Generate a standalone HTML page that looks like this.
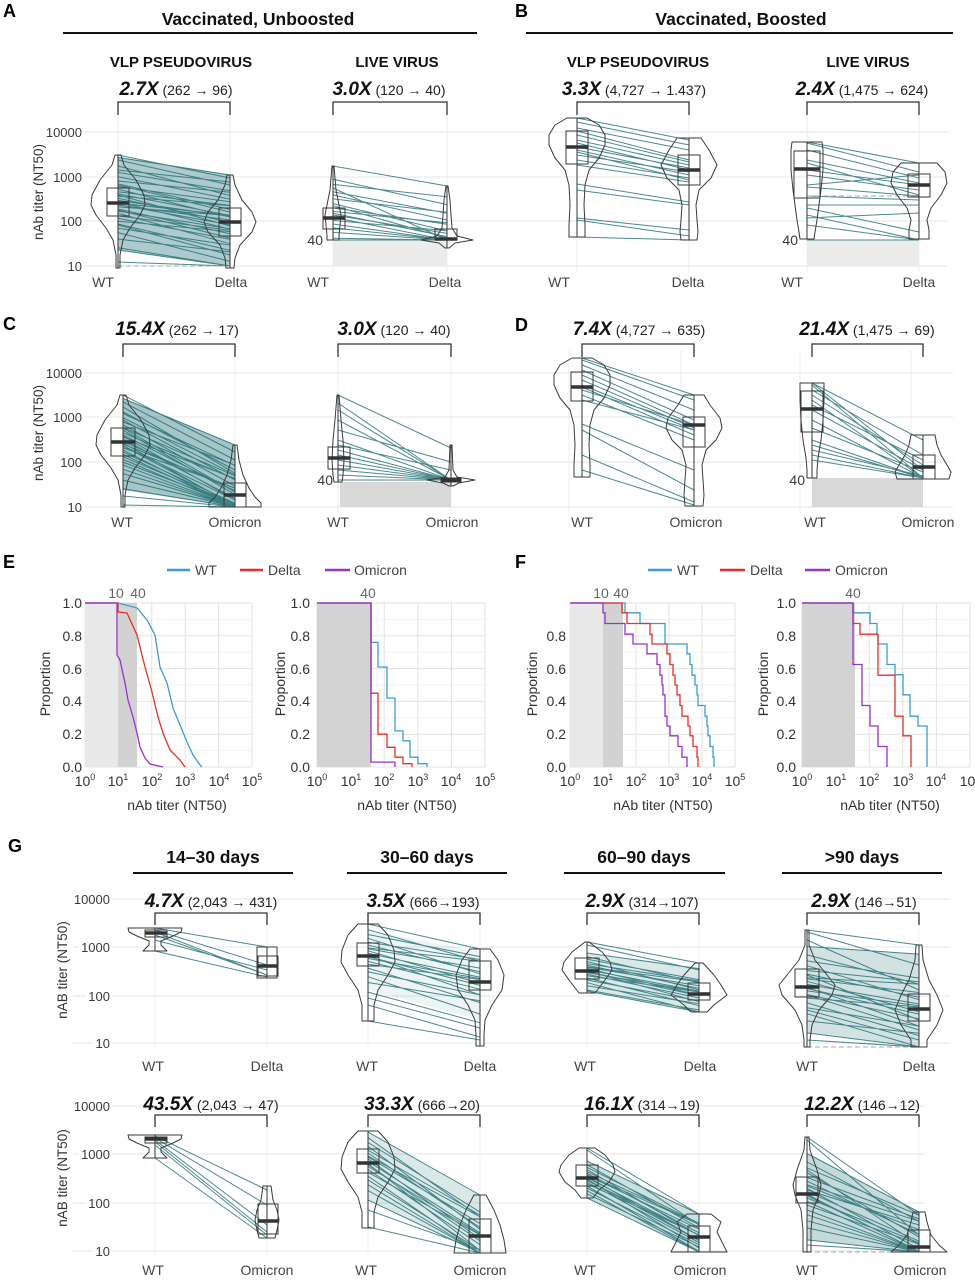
<!DOCTYPE html>
<html><head><meta charset="utf-8"><style>
html,body{margin:0;padding:0;background:#fff;}
svg{display:block;font-family:"Liberation Sans",Arial,sans-serif;}
.t{font-size:13px;fill:#3a3a3a}
.xl{font-size:14px;fill:#444}
.h1{font-size:17.5px;font-weight:bold;fill:#111}
.h2{font-size:15px;font-weight:bold;fill:#111}
.fb{font-size:19px;font-weight:bold;font-style:italic;fill:#111}
.fn{font-size:14px;fill:#222;font-weight:normal;font-style:normal}
.pl{font-size:18px;font-weight:bold;fill:#000}
.yt{font-size:13.5px;fill:#333}
.br{fill:none;stroke:#333;stroke-width:1.3}
.g4{font-size:14px;fill:#666}
.sup{font-size:9px}
.gh{fill:none;stroke:#e6e6e6;stroke-width:1}
.gv{fill:none;stroke:#ececec;stroke-width:1}
.gmi{fill:none;stroke:#f2f2f2;stroke-width:1}
.tl{fill:none;stroke:#1f6d72;stroke-width:1;stroke-opacity:0.8}
.vio{fill:none;stroke:#3a3a3a;stroke-width:1;stroke-linejoin:round}
.bx{fill:none;stroke:#3a3a3a;stroke-width:1}
.md{fill:none;stroke:#333;stroke-width:3.5}
.wk{fill:none;stroke:#333;stroke-width:1}
.dsh{fill:none;stroke:#aaa;stroke-width:1;stroke-dasharray:5,3}
.cw{fill:none;stroke:#3d9bd3;stroke-width:1.3}
.cd{fill:none;stroke:#e2312d;stroke-width:1.3}
.co{fill:none;stroke:#9932cc;stroke-width:1.3}
</style></head><body>
<svg width="975" height="1280" viewBox="0 0 975 1280" xmlns="http://www.w3.org/2000/svg">
<rect x="0" y="0" width="975" height="1280" fill="#fff"/>

<!-- GRIDS A-D -->
<path class="gh" d="M85 132H948M85 177H948M85 221H948M85 266H948M85 373H953M85 417H953M85 462H953M85 507H953"/>
<path class="gv" d="M118 112V272M230 112V272M333 112V272M447 112V272M577 112V272M689 112V272M807 112V272M919 112V272M123 350V512M235 350V512M338 350V512M451 350V512M569 350V512M681 350V512M800 350V512M911 350V512"/>
<!-- GRIDS G -->
<path class="gh" d="M112 899H950M112 947H950M112 996H950M112 1043H950M112 1106H925M112 1154H925M112 1203H925M112 1251H925M73 947H79M73 996H86M73 1043H93M73 1154H79M73 1203H86M73 1251H93"/>
<path class="gmi" d="M155 918V1050M267 918V1050M368 918V1050M480 918V1050M587 918V1050M699 918V1050M807 918V1050M919 918V1050M155 1120V1256M267 1120V1256M368 1120V1256M480 1120V1256M587 1120V1256M699 1120V1256M807 1120V1256M919 1120V1256"/>
<rect x="333" y="240" width="114" height="26" fill="#ececec"/>
<rect x="807" y="240" width="112" height="26" fill="#ececec"/>
<rect x="340" y="482" width="111" height="25" fill="#d9d9d9"/>
<rect x="812" y="478" width="111" height="29" fill="#d9d9d9"/>

<!-- GRIDS E/F -->
<path class="gmi" d="M85 750.6H252M85 717.8H252M85 685H252M85 652.2H252M85 619.4H252M317 750.6H485M317 717.8H485M317 685H485M317 652.2H485M317 619.4H485M570 750.6H735M570 717.8H735M570 685H735M570 652.2H735M570 619.4H735M802 750.6H970M802 717.8H970M802 685H970M802 652.2H970M802 619.4H970"/>
<path class="gh" style="stroke:#e2e2e2" d="M85 767H252M85 734.2H252M85 701.4H252M85 668.6H252M85 635.8H252M85 603H252M317 767H485M317 734.2H485M317 701.4H485M317 668.6H485M317 635.8H485M317 603H485M570 767H735M570 734.2H735M570 701.4H735M570 668.6H735M570 635.8H735M570 603H735M802 767H970M802 734.2H970M802 701.4H970M802 668.6H970M802 635.8H970M802 603H970
M85 603V767M118.4 603V767M151.8 603V767M185.2 603V767M218.6 603V767M252 603V767M317 603V767M350.6 603V767M384.2 603V767M417.8 603V767M451.4 603V767M485 603V767M570 603V767M603 603V767M636 603V767M669 603V767M702 603V767M735 603V767M802 603V767M835.6 603V767M869.2 603V767M902.8 603V767M936.4 603V767M970 603V767"/>
<rect x="85" y="603" width="33" height="164" fill="#e8e8e8"/>
<rect x="118" y="603" width="19" height="164" fill="#d2d2d2"/>
<rect x="317" y="603" width="54" height="164" fill="#d3d3d3"/>
<rect x="570" y="603" width="33" height="164" fill="#e8e8e8"/>
<rect x="603" y="603" width="20" height="164" fill="#d2d2d2"/>
<rect x="802" y="603" width="53" height="164" fill="#d3d3d3"/>

<!-- density bands -->
<polygon points="118,157 230,175 230,266 118,250" fill="#1f6d72" fill-opacity="0.36"/>
<polygon points="123,398 235,445 235,507 123,490" fill="#1f6d72" fill-opacity="0.4"/>
<polygon points="807,946 919,954 919,1047 807,1033" fill="#1f6d72" fill-opacity="0.2"/>
<polygon points="807,1153 919,1212 919,1252 807,1240" fill="#1f6d72" fill-opacity="0.26"/>
<polygon points="368,1132 480,1195 480,1253 368,1200" fill="#1f6d72" fill-opacity="0.16"/>
<polygon points="587,1161 699,1214 699,1252 587,1198" fill="#1f6d72" fill-opacity="0.22"/>
<polygon points="587,953 699,968 699,1012 587,991" fill="#1f6d72" fill-opacity="0.16"/>
<polygon points="368,930 480,952 480,1020 368,990" fill="#1f6d72" fill-opacity="0.08"/>

<!-- teal lines -->
<path class="tl" d="M118 247.7L230 266M118 239.1L230 251.9M118 232.6L230 261.4M118 228.3L230 245.1M118 224L230 250.4M118 221.2L230 231.6M118 218.4L230 239.2M118 215.8L230 230.2M118 213.3L230 243.7M118 211.1L230 228.7M118 209L230 233.8M118 206.8L230 215.6M118 204.7L230 224.7M118 203.1L230 215.1M118 201.9L230 229.1M118 200.4L230 216.4M118 198.2L230 222.2M118 196.1L230 205.7M118 193.9L230 215.5M118 191.8L230 205.4M118 189.2L230 217.2M118 186.6L230 201.8M118 183.8L230 209.4M118 181L230 192.2M118 176.7L230 199.1M118 172.4L230 190.8M118 166L230 195.6M118 157.4L230 175M118 155L230 178M118 160L230 185M118 170L230 182M118 250L230 266M118 262L230 266M118 185L230 212M118 195L230 226M118 210L230 238M118 225L230 255M118 205L230 220"/>
<path class="tl" d="M333 238.3L447 240M333 232.4L447 240M333 227.9L447 240M333 224L447 240M333 220.4L447 230.8M333 217.3L447 240M333 215L447 233.4M333 211.4L447 222.8M333 207.9L447 224.3M333 203.6L447 231M333 198.9L447 212.3M333 191.7L447 213.1M333 179.2L447 204.6M333 184.4L447 196.8M333 205.7L447 238M333 213.2L447 236.6M333 166L447 186M333 240L447 240M333 195L447 220M333 188L447 240"/>
<path class="tl" d="M577 118L689 140M577 122L689 145M577 128L689 150M577 131L689 160M577 135L689 162M577 140L689 165M577 143L689 170M577 147L689 168M577 150L689 175M577 152L689 180M577 155L689 172M577 160L689 178M577 165L689 182M577 184L689 202M577 190L689 205M577 218L689 230M577 220L689 236M577 237L689 240"/>
<path class="tl" d="M807 142L919 163M807 143L919 172M807 150L919 178M807 160L919 183M807 163L919 195M807 170L919 185M807 175L919 190M807 185L919 175M807 187L919 196M807 196L919 200M807 205L919 205M807 208L919 232M807 215L919 240M807 225L919 240M807 240L919 240M807 218L919 213"/>
<path class="tl" d="M123 488.7L235 507M123 480.1L235 507M123 473.6L235 507M123 469.3L235 507M123 465L235 507M123 462.2L235 504.4M123 459.4L235 507M123 456.8L235 504M123 454.3L235 507M123 452.1L235 503.3M123 450L235 507M123 447.8L235 488M123 445.7L235 499.9M123 444.1L235 488.3M123 442.9L235 506.1M123 441.4L235 490.6M123 439.2L235 498.4M123 437.1L235 478.3M123 434.9L235 491.1M123 432.8L235 479M123 430.2L235 494.4M123 427.6L235 475.8M123 424.8L235 486M123 422L235 465.2M123 417.7L235 474.9M123 413.4L235 465.6M123 407L235 473.2M123 398.4L235 445M123 395L235 452M123 402L235 460M123 412L235 470M123 420L235 480M123 428L235 492M123 436L235 500M123 446L235 505M123 496L235 507M123 505L235 507"/>
<path class="tl" d="M338 395L451 448M338 403L451 480M338 410L451 480M338 420L451 480M338 430L451 462M338 440L451 480M338 450L451 480M338 455L451 480M338 460L451 480M338 465L451 480M338 470L451 480M338 475L451 480M338 480L451 480M338 445L451 470"/>
<path class="tl" d="M582 358L694 395M582 360L694 400M582 365L694 410M582 370L694 420M582 375L694 425M582 380L694 428M582 385L694 430M582 387L694 435M582 390L694 425M582 395L694 440M582 400L694 430M582 424L694 470M582 430L694 490M582 455L694 502M582 470L694 505"/>
<path class="tl" d="M812 383L923 440M812 383L923 470M812 385L923 478M812 390L923 455M812 395L923 465M812 400L923 478M812 405L923 460M812 410L923 470M812 420L923 478M812 428L923 472M812 440L923 478M812 445L923 478M812 450L923 476M812 455L923 478M812 460L923 478"/>
<path class="tl" d="M155 928L267 947M155 930L267 965M155 932L267 975M155 935L267 975M155 940L267 970M155 951L267 977"/>
<path class="tl" d="M368 992.1L480 1022.8M368 982.5L480 1000.7M368 976.7L480 1014.1M368 971.9L480 994.9M368 968.1L480 1002.6M368 964.2L480 979.5M368 961.4L480 989.2M368 958.5L480 978.6M368 955.6L480 994.9M368 953.3L480 977.3M368 950.8L480 983.4M368 947.9L480 961.3M368 945L480 971.9M368 942.2L480 959.5M368 938.3L480 973.8M368 934.5L480 956.6M368 929.7L480 961.4M368 924L480 949M368 956.6L480 985.4M368 948.9L480 968.1M368 1021L480 1040M368 1005L480 1037M368 998L480 1028"/>
<path class="tl" d="M587 991.1L699 1012M587 985.8L699 1003.8M587 982.7L699 1012M587 980L699 1000.9M587 977.9L699 1005.7M587 975.8L699 992M587 974.2L699 998M587 972.6L699 991.7M587 971L699 1001.7M587 969.7L699 991.1M587 968.4L699 995.1M587 966.8L699 981.9M587 965.2L699 988.4M587 963.6L699 981M587 961.5L699 989.9M587 959.3L699 979.6M587 956.7L699 982.8M587 953L699 968.6M587 971.5L699 995.8M587 967.3L699 985.8M587 942L699 963M587 945L699 970M587 990L699 1010"/>
<path class="tl" d="M807 1032.9L919 1047M807 1020.9L919 1033.3M807 1013.7L919 1047M807 1007.7L919 1026.1M807 1002.9L919 1035.7M807 998.1L919 1006.9M807 994.5L919 1018.9M807 990.9L919 1005.7M807 987.3L919 1026.1M807 984.4L919 1004M807 981.3L919 1011.7M807 977.7L919 984.1M807 974.1L919 997.3M807 970.5L919 981.7M807 965.7L919 999.7M807 960.9L919 978.1M807 954.9L919 984.1M807 946.5L919 954.1M807 988.5L919 1014.1M807 978.9L919 992.5M807 930L919 945M807 932L919 965M807 1040L919 1047M807 940L919 990M807 1010L919 1040M807 995L919 1030M807 975L919 1020"/>
<path class="tl" d="M155 1136L267 1190M155 1138L267 1205M155 1140L267 1225M155 1142L267 1232M155 1145L267 1235M155 1158L267 1238"/>
<path class="tl" d="M368 1200.1L480 1253M368 1190.5L480 1253M368 1184.7L480 1253M368 1179.9L480 1250.4M368 1176.1L480 1253M368 1172.2L480 1235M368 1169.4L480 1244.7M368 1166.5L480 1234.1M368 1163.6L480 1250.4M368 1161.3L480 1232.8M368 1158.8L480 1238.9M368 1155.9L480 1216.8M368 1153L480 1227.4M368 1150.2L480 1215M368 1146.3L480 1229.3M368 1142.5L480 1212.1M368 1137.7L480 1216.9M368 1132L480 1195M368 1164.6L480 1240.9M368 1156.9L480 1223.6M368 1227L480 1253M368 1210L480 1250"/>
<path class="tl" d="M587 1198L699 1252M587 1193.8L699 1246.9M587 1190.7L699 1252M587 1188L699 1244.7M587 1185.9L699 1251.3M587 1183.8L699 1234.8M587 1182.2L699 1242.5M587 1180.6L699 1235.2M587 1179L699 1247.9M587 1177.7L699 1235.2M587 1176.4L699 1240.3M587 1174.8L699 1224.3M587 1173.2L699 1232.8M587 1171.6L699 1224M587 1169.5L699 1235.6M587 1167.3L699 1223.3M587 1164.7L699 1227.9M587 1161L699 1214M587 1179.5L699 1240.6M587 1175.3L699 1229.2M587 1148L699 1214M587 1150L699 1225"/>
<path class="tl" d="M807 1239.9L919 1252M807 1227.9L919 1252M807 1220.7L919 1252M807 1214.7L919 1252M807 1209.9L919 1252M807 1205.1L919 1244.1M807 1201.5L919 1252M807 1197.9L919 1242.9M807 1194.3L919 1252M807 1191.4L919 1241.2M807 1188.3L919 1248.9M807 1184.7L919 1221.3M807 1181.1L919 1234.5M807 1177.5L919 1218.9M807 1172.7L919 1236.9M807 1167.9L919 1215.3M807 1161.9L919 1221.3M807 1153.5L919 1212M807 1195.5L919 1251.3M807 1185.9L919 1229.7M807 1137L919 1215M807 1140L919 1235M807 1245L919 1252M807 1170L919 1245M807 1190L919 1225"/>
<path class="dsh" d="M118 266H230M807 196H919M807 1047H919M807 1252H919"/>

<!-- violins -->
<polygon class="vio" points="121,155 124,165 136,180 144,195 145,205 140,215 130,228 123,240 120,255 120,268 116,268 116,255 113,240 106,228 96,215 91,205 92,195 100,180 112,165 115,155"/>
<polygon class="vio" points="233,175 235,185 242,200 252,212 256,222 252,232 240,245 235,258 234,268 226,268 225,258 220,245 208,232 204,222 208,212 218,200 225,185 227,175"/>
<polygon class="vio" points="334,166 336,190 339,205 341,215 340,225 339,235 339,240 327,240 327,235 326,225 325,215 327,205 330,190 332,166"/>
<polygon class="vio" points="448,186 450,200 451,215 452,228 457,236 473,240 455,243 449,248 445,248 439,243 421,240 437,236 442,228 443,215 444,200 446,186"/>
<polygon class="vio" points="587,118 599,125 605,135 605,145 599,158 589,170 585,185 584,205 585,225 585,237 569,237 569,225 570,205 569,185 565,170 555,158 549,145 549,135 555,125 567,118"/>
<polygon class="vio" points="701,138 709,150 717,165 711,178 699,190 696,205 697,220 698,232 697,240 681,240 680,232 681,220 682,205 679,190 667,178 661,165 669,150 677,138"/>
<polygon class="vio" points="822,142 823,150 823,170 821,190 819,205 817,220 815,232 814,239 800,239 799,232 797,220 795,205 793,190 791,170 791,150 792,142"/>
<polygon class="vio" points="937,163 945,172 947,183 941,195 931,208 927,220 929,230 929,239 909,239 909,230 911,220 907,208 897,195 891,183 893,172 901,163"/>
<polygon class="vio" points="126,395 129,405 141,420 149,435 150,445 145,455 135,468 128,480 125,495 125,507 121,507 121,495 118,480 111,468 101,455 96,445 97,435 105,420 117,405 120,395"/>
<polygon class="vio" points="237,445 239,460 243,475 249,488 255,497 261,503 261,507 209,507 209,503 215,497 221,488 227,475 231,460 233,445"/>
<polygon class="vio" points="339,395 341,420 343,440 344,460 343,475 342,482 334,482 333,475 332,460 333,440 335,420 337,395"/>
<polygon class="vio" points="452,445 453,470 457,477 475,480 459,483 453,486 449,486 443,483 427,480 445,477 449,470 450,445"/>
<polygon class="vio" points="592,358 604,365 610,375 610,385 604,398 594,410 590,425 589,445 590,465 590,477 574,477 574,465 575,445 574,425 570,410 560,398 554,385 554,375 560,365 572,358"/>
<polygon class="vio" points="704,395 710,405 720,418 722,428 716,440 706,450 702,465 703,480 704,495 703,506 685,506 684,495 685,480 686,465 682,450 672,440 666,428 668,418 678,405 684,395"/>
<polygon class="vio" points="824,383 824,400 823,420 821,440 818,458 817,470 817,478 807,478 807,470 806,458 803,440 801,420 800,400 800,383"/>
<polygon class="vio" points="935,435 937,445 941,455 947,465 951,472 949,479 897,479 895,472 899,465 905,455 909,445 911,435"/>
<!-- G row1 violins -->
<polygon class="vio" points="182,928 181,932 173,936 161,941 161,945 165,949 167,951 143,951 145,949 149,945 149,941 137,936 129,932 128,928"/>
<polygon class="vio" points="257,947 277,947 277,978 257,978"/>
<polygon class="vio" points="378,924 388,935 394,950 395,962 388,975 378,990 374,1005 374,1021 362,1021 362,1005 358,990 348,975 341,962 342,950 348,935 358,924"/>
<polygon class="vio" points="490,949 498,960 504,975 502,990 492,1005 485,1020 484,1035 484,1046 476,1046 476,1035 475,1020 468,1005 458,990 456,975 462,960 470,949"/>
<polygon class="vio" points="589,942 602,952 610,962 612,970 605,980 595,993 579,993 569,980 562,970 564,962 572,952 585,942"/>
<polygon class="vio" points="703,963 714,975 721,985 727,995 714,1005 707,1012 691,1012 684,1005 671,995 677,985 684,975 695,963"/>
<polygon class="vio" points="809,930 809,945 815,960 827,975 835,985 832,995 819,1010 812,1025 810,1040 810,1047 804,1047 804,1040 802,1025 795,1010 782,995 779,985 787,975 799,960 805,945 805,930"/>
<polygon class="vio" points="922,945 923,960 929,980 937,995 943,1010 937,1025 927,1040 927,1047 911,1047 911,1040 901,1025 895,1010 901,995 909,980 915,960 916,945"/>
<!-- G row2 violins -->
<polygon class="vio" points="182,1135 181,1139 173,1143 161,1148 161,1152 165,1156 167,1158 143,1158 145,1156 149,1152 149,1148 137,1143 129,1139 128,1135"/>
<polygon class="vio" points="271,1186 273,1200 277,1210 279,1220 277,1230 275,1238 259,1238 257,1230 255,1220 257,1210 261,1200 263,1186"/>
<polygon class="vio" points="378,1131 388,1142 394,1157 395,1169 388,1182 378,1197 374,1212 374,1228 362,1228 362,1212 358,1197 348,1182 341,1169 342,1157 348,1142 358,1131"/>
<polygon class="vio" points="486,1195 494,1210 500,1225 504,1240 506,1253 454,1253 456,1240 460,1225 466,1210 474,1195"/>
<polygon class="vio" points="595,1148 605,1155 613,1165 615,1172 609,1182 599,1190 593,1198 581,1198 575,1190 565,1182 559,1172 561,1165 569,1155 579,1148"/>
<polygon class="vio" points="711,1214 721,1222 717,1232 721,1240 727,1252 671,1252 677,1240 681,1232 677,1222 687,1214"/>
<polygon class="vio" points="809,1137 810,1150 817,1170 821,1185 819,1195 813,1210 811,1230 811,1252 803,1252 803,1230 801,1210 795,1195 793,1185 797,1170 804,1150 805,1137"/>
<polygon class="vio" points="925,1212 927,1222 931,1235 939,1245 947,1252 891,1252 899,1245 907,1235 911,1222 913,1212"/>

<!-- whiskers -->
<path class="wk" d="M118 155V268M230 175V268M333 166V240M447 186V248M577 118V237M689 138V240M807 142V239M919 163V239M123 395V507M235 445V507M338 395V482M451 445V486M582 358V477M694 395V506M812 383V478M923 435V479M155 928V951M267 947V978M368 924V1021M480 949V1046M587 942V993M699 963V1012M807 930V1047M919 945V1047M155 1135V1158M267 1186V1238M368 1131V1228M480 1195V1253M587 1148V1198M699 1214V1252M807 1137V1252M919 1212V1252"/>

<!-- boxes -->
<g class="bx">
<rect x="107" y="188" width="22" height="28"/><rect x="219" y="208" width="22" height="28"/>
<rect x="323" y="208" width="22" height="21"/><rect x="435" y="229" width="22" height="11"/>
<rect x="566" y="131" width="22" height="33"/><rect x="678" y="155" width="22" height="30"/>
<rect x="794" y="151" width="26" height="47"/><rect x="908" y="174" width="22" height="23"/>
<rect x="111" y="428" width="24" height="28"/><rect x="224" y="483" width="22" height="24"/>
<rect x="328" y="447" width="22" height="22"/><rect x="441" y="478" width="20" height="4"/>
<rect x="571" y="372" width="22" height="29"/><rect x="683" y="417" width="22" height="30"/>
<rect x="801" y="391" width="22" height="41"/><rect x="913" y="455" width="22" height="24"/>
<rect x="145" y="930" width="22" height="7"/><rect x="258" y="956" width="20" height="20"/>
<rect x="357" y="943" width="22" height="23"/><rect x="469" y="961" width="22" height="29"/>
<rect x="575" y="958" width="24" height="21"/><rect x="688" y="983" width="22" height="17"/>
<rect x="795" y="969" width="24" height="28"/><rect x="908" y="994" width="22" height="27"/>
<rect x="145" y="1137" width="22" height="6"/><rect x="258" y="1204" width="20" height="30"/>
<rect x="357" y="1149" width="22" height="24"/><rect x="469" y="1219" width="22" height="34"/>
<rect x="576" y="1165" width="22" height="21"/><rect x="688" y="1226" width="22" height="26"/>
<rect x="796" y="1177" width="22" height="26"/><rect x="908" y="1230" width="22" height="22"/>
</g>
<path class="md" d="M107 203H129M219 222H241M323 218H345M435 239H457M566 147H588M678 170H700M794 169H820M908 185H930M111 442H135M224 495H246M328 458H350M441 480H461M571 387H593M683 425H705M801 409H823M913 467H935M145 933H167M258 966H278M357 956H379M469 982H491M575 971H599M688 994H710M795 987H819M908 1009H930M145 1139H167M258 1221H278M357 1163H379M469 1236H491M576 1178H598M688 1237H710M796 1194H818M908 1247H930"/>

<!-- ECDF curves -->
<path class="cw" d="M85,603 H118 L137,608 L147,620 L155,635 L160,667 L167,683 L173,708 L180,725 L187,742 L193,755 L200,765 L202,767"/>
<path class="cd" d="M85,603 H118 V612 L127,613 L137,635 L145,667 L152,692 L158,717 L163,733 L170,750 L180,760 L185,767"/>
<path class="co" d="M85,603 H117 V655 L120,660 L125,683 L128,700 L133,717 L137,733 L140,747 L145,758 L150,764 L163,767"/>
<path class="cw" d="M317,603 H371 V642.4 H378 V667 H387 V698.1 H395 V730.9 H403 V740.8 H410 V757.2 H418 V763.7 H427 V767"/>
<path class="cd" d="M317,603 H371 V693.2 H378 V734.2 H387 V747.3 H395 V757.2 H403 V763.7 H412 V767"/>
<path class="co" d="M317,603 H371 V762.1 H395 V767"/>
<path class="cw" d="M570,603 H625 V612.8 H640 V623.5 H665 V644 H687 V653.8 H690 V664.5 H692 V675.2 H695 V685 H697 V694.8 H698 V705.5 H705 V716.2 H707 V726 H708 V735.8 H710 V746.5 H713 V757.2 H714 V767"/>
<path class="cd" d="M570,603 H622 V612.8 H627 V623.5 H650 V634.2 H652 V644 H667 V653.8 H670 V664.5 H673 V675.2 H675 V685 H677 V694.8 H680 V705.5 H682 V716.2 H688 V726 H690 V735.8 H693 V746.5 H697 V757.2 H698 V767"/>
<path class="co" d="M570,603 H603 V612.8 H605 V623.5 H625 V634.2 H633 V644 H647 V653.8 H657 V664.5 H660 V675.2 H662 V685 H663 V694.8 H665 V716.2 H667 V726 H670 V735.8 H678 V746.5 H682 V757.2 H687 V767"/>
<path class="cw" d="M802,603 H853 V612.8 H870 V623.5 H877 V634.2 H878 V644 H887 V664.5 H895 V674.7 H903 V694.8 H910 V716.2 H918 V726 H927 V767"/>
<path class="cd" d="M802,603 H853 V623.5 H860 V634.2 H878 V675.2 H895 V716.2 H903 V735.8 H911 V767"/>
<path class="co" d="M802,603 H853 V664.5 H862 V705.5 H870 V726 H878 V746.5 H887 V767"/>

<!-- Panel letters -->
<text class="pl" x="3" y="17">A</text>
<text class="pl" x="515" y="17">B</text>
<text class="pl" x="3" y="330">C</text>
<text class="pl" x="515" y="331">D</text>
<text class="pl" x="3" y="568">E</text>
<text class="pl" x="515" y="568">F</text>
<text class="pl" x="8" y="852">G</text>

<!-- Headers A/B -->
<text class="h1" x="258" y="25" text-anchor="middle">Vaccinated, Unboosted</text>
<line x1="63" y1="33" x2="477" y2="33" stroke="#111" stroke-width="2"/>
<text class="h1" x="741" y="25" text-anchor="middle">Vaccinated, Boosted</text>
<line x1="526" y1="33" x2="953" y2="33" stroke="#111" stroke-width="2"/>
<text class="h2" x="181" y="67" text-anchor="middle">VLP PSEUDOVIRUS</text>
<text class="h2" x="397" y="67" text-anchor="middle">LIVE VIRUS</text>
<text class="h2" x="638" y="67" text-anchor="middle">VLP PSEUDOVIRUS</text>
<text class="h2" x="868" y="67" text-anchor="middle">LIVE VIRUS</text>

<text x="176" y="95" text-anchor="middle"><tspan class="fb">2.7X</tspan><tspan class="fn"> (262 → 96)</tspan></text>
<text x="389" y="95" text-anchor="middle"><tspan class="fb">3.0X</tspan><tspan class="fn"> (120 → 40)</tspan></text>
<text x="634" y="95" text-anchor="middle"><tspan class="fb">3.3X</tspan><tspan class="fn"> (4,727 → 1.437)</tspan></text>
<text x="862" y="95" text-anchor="middle"><tspan class="fb">2.4X</tspan><tspan class="fn"> (1,475 → 624)</tspan></text>
<path class="br" d="M118,115 V102 H230 V115"/>
<path class="br" d="M333,115 V102 H447 V115"/>
<path class="br" d="M577,115 V102 H689 V115"/>
<path class="br" d="M807,115 V102 H919 V115"/>

<text class="t" x="82" y="137" text-anchor="end">10000</text>
<text class="t" x="82" y="182" text-anchor="end">1000</text>
<text class="t" x="82" y="226" text-anchor="end">100</text>
<text class="t" x="82" y="271" text-anchor="end">10</text>
<text class="t" x="323" y="245" text-anchor="end" style="font-size:14px">40</text>
<text class="t" x="798" y="245" text-anchor="end" style="font-size:14px">40</text>
<text class="yt" transform="translate(43,192) rotate(-90)" text-anchor="middle">nAb titer (NT50)</text>
<text class="xl" x="103" y="287" text-anchor="middle">WT</text>
<text class="xl" x="231" y="287" text-anchor="middle">Delta</text>
<text class="xl" x="318" y="287" text-anchor="middle">WT</text>
<text class="xl" x="445" y="287" text-anchor="middle">Delta</text>
<text class="xl" x="559" y="287" text-anchor="middle">WT</text>
<text class="xl" x="688" y="287" text-anchor="middle">Delta</text>
<text class="xl" x="792" y="287" text-anchor="middle">WT</text>
<text class="xl" x="919" y="287" text-anchor="middle">Delta</text>

<!-- C/D -->
<text x="177" y="335" text-anchor="middle"><tspan class="fb">15.4X</tspan><tspan class="fn"> (262 → 17)</tspan></text>
<text x="394" y="335" text-anchor="middle"><tspan class="fb">3.0X</tspan><tspan class="fn"> (120 → 40)</tspan></text>
<text x="639" y="335" text-anchor="middle"><tspan class="fb">7.4X</tspan><tspan class="fn"> (4,727 → 635)</tspan></text>
<text x="867" y="335" text-anchor="middle"><tspan class="fb">21.4X</tspan><tspan class="fn"> (1,475 → 69)</tspan></text>
<path class="br" d="M123,357 V344 H235 V357"/>
<path class="br" d="M338,357 V344 H451 V357"/>
<path class="br" d="M582,357 V344 H694 V357"/>
<path class="br" d="M812,357 V344 H923 V357"/>
<text class="t" x="82" y="378" text-anchor="end">10000</text>
<text class="t" x="82" y="422" text-anchor="end">1000</text>
<text class="t" x="82" y="467" text-anchor="end">100</text>
<text class="t" x="82" y="512" text-anchor="end">10</text>
<text class="t" x="333" y="485" text-anchor="end" style="font-size:14px">40</text>
<text class="t" x="805" y="485" text-anchor="end" style="font-size:14px">40</text>
<text class="yt" transform="translate(43,433) rotate(-90)" text-anchor="middle">nAb titer (NT50)</text>
<text class="xl" x="122" y="527" text-anchor="middle">WT</text>
<text class="xl" x="235" y="527" text-anchor="middle">Omicron</text>
<text class="xl" x="338" y="527" text-anchor="middle">WT</text>
<text class="xl" x="452" y="527" text-anchor="middle">Omicron</text>
<text class="xl" x="582" y="527" text-anchor="middle">WT</text>
<text class="xl" x="696" y="527" text-anchor="middle">Omicron</text>
<text class="xl" x="815" y="527" text-anchor="middle">WT</text>
<text class="xl" x="928" y="527" text-anchor="middle">Omicron</text>

<!-- E/F legends -->
<line x1="167" y1="570" x2="190" y2="570" stroke="#3d9bd3" stroke-width="2.5"/>
<text class="xl" x="195" y="575">WT</text>
<line x1="240" y1="570" x2="263" y2="570" stroke="#e2312d" stroke-width="2.5"/>
<text class="xl" x="268" y="575">Delta</text>
<line x1="325" y1="570" x2="350" y2="570" stroke="#9932cc" stroke-width="2.5"/>
<text class="xl" x="354" y="575">Omicron</text>
<line x1="648" y1="570" x2="672" y2="570" stroke="#3d9bd3" stroke-width="2.5"/>
<text class="xl" x="677" y="575">WT</text>
<line x1="720" y1="570" x2="745" y2="570" stroke="#e2312d" stroke-width="2.5"/>
<text class="xl" x="750" y="575">Delta</text>
<line x1="805" y1="570" x2="830" y2="570" stroke="#9932cc" stroke-width="2.5"/>
<text class="xl" x="835" y="575">Omicron</text>

<text class="g4" x="116" y="598" text-anchor="middle">10</text>
<text class="g4" x="138" y="598" text-anchor="middle">40</text>
<text class="g4" x="368" y="598" text-anchor="middle">40</text>
<text class="g4" x="601" y="598" text-anchor="middle">10</text>
<text class="g4" x="621" y="598" text-anchor="middle">40</text>
<text class="g4" x="853" y="598" text-anchor="middle">40</text>

<g class="xl" style="fill:#333" text-anchor="end">
<text x="82" y="608">1.0</text><text x="82" y="641">0.8</text><text x="82" y="674">0.6</text><text x="82" y="706">0.4</text><text x="82" y="739">0.2</text><text x="82" y="772">0.0</text>
<text x="310" y="608">1.0</text><text x="310" y="641">0.8</text><text x="310" y="674">0.6</text><text x="310" y="706">0.4</text><text x="310" y="739">0.2</text><text x="310" y="772">0.0</text>
<text x="566" y="641">0.8</text><text x="566" y="674">0.6</text><text x="566" y="706">0.4</text><text x="566" y="739">0.2</text><text x="566" y="772">0.0</text>
<text x="796" y="608">1.0</text><text x="796" y="641">0.8</text><text x="796" y="674">0.6</text><text x="796" y="706">0.4</text><text x="796" y="739">0.2</text><text x="796" y="772">0.0</text>
</g>
<g class="xl" style="fill:#333" text-anchor="middle">
<text x="85" y="786">10<tspan class="sup" dy="-6">0</tspan></text>
<text x="118" y="786">10<tspan class="sup" dy="-6">1</tspan></text>
<text x="152" y="786">10<tspan class="sup" dy="-6">2</tspan></text>
<text x="185" y="786">10<tspan class="sup" dy="-6">3</tspan></text>
<text x="219" y="786">10<tspan class="sup" dy="-6">4</tspan></text>
<text x="252" y="786">10<tspan class="sup" dy="-6">5</tspan></text>
<text x="317" y="786">10<tspan class="sup" dy="-6">0</tspan></text>
<text x="351" y="786">10<tspan class="sup" dy="-6">1</tspan></text>
<text x="384" y="786">10<tspan class="sup" dy="-6">2</tspan></text>
<text x="418" y="786">10<tspan class="sup" dy="-6">3</tspan></text>
<text x="451" y="786">10<tspan class="sup" dy="-6">4</tspan></text>
<text x="485" y="786">10<tspan class="sup" dy="-6">5</tspan></text>
<text x="570" y="786">10<tspan class="sup" dy="-6">0</tspan></text>
<text x="603" y="786">10<tspan class="sup" dy="-6">1</tspan></text>
<text x="636" y="786">10<tspan class="sup" dy="-6">2</tspan></text>
<text x="669" y="786">10<tspan class="sup" dy="-6">3</tspan></text>
<text x="702" y="786">10<tspan class="sup" dy="-6">4</tspan></text>
<text x="735" y="786">10<tspan class="sup" dy="-6">5</tspan></text>
<text x="802" y="786">10<tspan class="sup" dy="-6">0</tspan></text>
<text x="836" y="786">10<tspan class="sup" dy="-6">1</tspan></text>
<text x="869" y="786">10<tspan class="sup" dy="-6">2</tspan></text>
<text x="903" y="786">10<tspan class="sup" dy="-6">3</tspan></text>
<text x="936" y="786">10<tspan class="sup" dy="-6">4</tspan></text>
<text x="970" y="786">10<tspan class="sup" dy="-6">5</tspan></text>
<text x="177" y="810">nAb titer (NT50)</text>
<text x="407" y="810">nAb titer (NT50)</text>
<text x="663" y="810">nAb titer (NT50)</text>
<text x="890" y="810">nAb titer (NT50)</text>
</g>
<text class="yt" style="font-size:14px" transform="translate(50,684) rotate(-90)" text-anchor="middle">Proportion</text>
<text class="yt" style="font-size:14px" transform="translate(285,684) rotate(-90)" text-anchor="middle">Proportion</text>
<text class="yt" style="font-size:14px" transform="translate(537,684) rotate(-90)" text-anchor="middle">Proportion</text>
<text class="yt" style="font-size:14px" transform="translate(768,684) rotate(-90)" text-anchor="middle">Proportion</text>

<!-- G headers -->
<text class="h1" x="213" y="863" text-anchor="middle">14–30 days</text>
<text class="h1" x="427" y="863" text-anchor="middle">30–60 days</text>
<text class="h1" x="644" y="863" text-anchor="middle">60–90 days</text>
<text class="h1" x="862" y="863" text-anchor="middle">&gt;90 days</text>
<line x1="133" y1="873" x2="293" y2="873" stroke="#111" stroke-width="2"/>
<line x1="347" y1="873" x2="507" y2="873" stroke="#111" stroke-width="2"/>
<line x1="564" y1="873" x2="725" y2="873" stroke="#111" stroke-width="2"/>
<line x1="782" y1="873" x2="942" y2="873" stroke="#111" stroke-width="2"/>

<text x="211" y="907" text-anchor="middle"><tspan class="fb">4.7X</tspan><tspan class="fn"> (2,043 → 431)</tspan></text>
<text x="423" y="907" text-anchor="middle"><tspan class="fb">3.5X</tspan><tspan class="fn"> (666→193)</tspan></text>
<text x="642" y="907" text-anchor="middle"><tspan class="fb">2.9X</tspan><tspan class="fn"> (314→107)</tspan></text>
<text x="864" y="907" text-anchor="middle"><tspan class="fb">2.9X</tspan><tspan class="fn"> (146→51)</tspan></text>
<path class="br" d="M155,925 V913 H267 V925"/>
<path class="br" d="M368,925 V913 H480 V925"/>
<path class="br" d="M587,925 V913 H699 V925"/>
<path class="br" d="M807,925 V913 H919 V925"/>

<text x="211" y="1110" text-anchor="middle"><tspan class="fb">43.5X</tspan><tspan class="fn"> (2,043 → 47)</tspan></text>
<text x="422" y="1110" text-anchor="middle"><tspan class="fb">33.3X</tspan><tspan class="fn"> (666→20)</tspan></text>
<text x="642" y="1110" text-anchor="middle"><tspan class="fb">16.1X</tspan><tspan class="fn"> (314→19)</tspan></text>
<text x="862" y="1110" text-anchor="middle"><tspan class="fb">12.2X</tspan><tspan class="fn"> (146→12)</tspan></text>
<path class="br" d="M155,1127 V1115 H267 V1127"/>
<path class="br" d="M368,1127 V1115 H480 V1127"/>
<path class="br" d="M587,1127 V1115 H699 V1127"/>
<path class="br" d="M807,1127 V1115 H919 V1127"/>

<text class="t" x="110" y="904" text-anchor="end">10000</text>
<text class="t" x="110" y="952" text-anchor="end">1000</text>
<text class="t" x="110" y="1001" text-anchor="end">100</text>
<text class="t" x="110" y="1048" text-anchor="end">10</text>
<text class="t" x="110" y="1111" text-anchor="end">10000</text>
<text class="t" x="110" y="1159" text-anchor="end">1000</text>
<text class="t" x="110" y="1208" text-anchor="end">100</text>
<text class="t" x="110" y="1256" text-anchor="end">10</text>
<text class="yt" transform="translate(67,970) rotate(-90)" text-anchor="middle">nAB titer (NT50)</text>
<text class="yt" transform="translate(67,1178) rotate(-90)" text-anchor="middle">nAB titer (NT50)</text>

<g class="xl" text-anchor="middle">
<text x="153" y="1071">WT</text><text x="267" y="1071">Delta</text>
<text x="367" y="1071">WT</text><text x="480" y="1071">Delta</text>
<text x="585" y="1071">WT</text><text x="700" y="1071">Delta</text>
<text x="807" y="1071">WT</text><text x="919" y="1071">Delta</text>
<text x="153" y="1275">WT</text><text x="267" y="1275">Omicron</text>
<text x="366" y="1275">WT</text><text x="480" y="1275">Omicron</text>
<text x="585" y="1275">WT</text><text x="700" y="1275">Omicron</text>
<text x="807" y="1275">WT</text><text x="920" y="1275">Omicron</text>
</g>
</svg>
</body></html>
